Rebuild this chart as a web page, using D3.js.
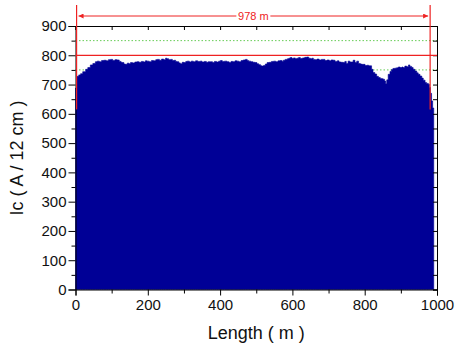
<!DOCTYPE html>
<html>
<head>
<meta charset="utf-8">
<script src="https://cdn.jsdelivr.net/npm/d3@7"></script>
<style>
  body { margin: 0; background: #fff; }
  svg { display: block; font-family: Arial, "Liberation Sans", sans-serif; }
</style>
</head>
<body>
<div id="chart"></div>
<script>
// length along the tape (m) and critical current (A / 12 cm)
const lengths = [0, 3, 4, 9, 14, 20, 28, 34, 41, 48, 55, 60, 66, 72, 78, 85, 91, 97, 103, 109,
  115, 121, 126, 129, 134, 138, 143, 148, 152, 158, 164, 170, 176, 182, 188, 193, 198, 204, 210, 216,
  222, 226, 232, 238, 244, 249, 253, 258, 263, 268, 273, 277, 281, 286, 290, 295, 300, 305, 309, 315,
  320, 326, 332, 338, 345, 350, 356, 362, 367, 373, 379, 384, 390, 396, 401, 406, 412, 419, 425, 430,
  436, 441, 447, 452, 458, 464, 470, 475, 479, 485, 491, 497, 502, 507, 512, 516, 520, 525, 530, 536,
  542, 548, 554, 560, 566, 571, 575, 580, 586, 590, 594, 599, 603, 608, 612, 617, 622, 628, 634, 640,
  645, 650, 654, 658, 663, 668, 674, 680, 685, 690, 696, 702, 707, 713, 718, 724, 729, 735, 741, 745,
  749, 754, 759, 764, 768, 773, 778, 783, 788, 792, 796, 801, 806, 811, 815, 819, 823, 828, 833, 838,
  843, 847, 851, 855, 858, 861, 865, 870, 874, 878, 883, 888, 893, 898, 903, 906, 911, 916, 921, 925,
  930, 934, 939, 944, 948, 953, 958, 962, 967, 971, 976, 979, 982, 985, 988, 991];
const icValues = [688, 690, 728, 733, 737, 744, 752, 758, 767, 772, 778, 780, 778, 782, 783, 781, 785, 786, 782, 785,
  784, 779, 776, 775, 770, 769, 773, 771, 775, 774, 777, 778, 776, 779, 777, 781, 780, 778, 782, 781,
  785, 786, 783, 787, 785, 790, 788, 785, 786, 782, 783, 779, 778, 774, 771, 776, 775, 779, 780, 777,
  780, 778, 781, 779, 780, 777, 779, 776, 778, 778, 775, 779, 777, 780, 782, 779, 780, 778, 775, 779,
  778, 781, 780, 778, 782, 784, 786, 782, 780, 778, 776, 775, 771, 768, 764, 763, 765, 770, 775, 776,
  779, 780, 778, 781, 782, 780, 783, 786, 788, 790, 792, 789, 791, 788, 790, 792, 789, 791, 793, 794,
  790, 788, 790, 786, 785, 787, 784, 786, 786, 782, 784, 781, 784, 783, 779, 781, 777, 776, 775, 779,
  772, 780, 777, 777, 783, 775, 780, 772, 770, 769, 769, 765, 766, 764, 764, 752, 741, 736, 728, 724,
  721, 720, 718, 712, 703, 716, 735, 745, 751, 755, 756, 757, 760, 758, 760, 758, 763, 761, 767, 762,
  758, 752, 746, 740, 735, 729, 722, 715, 707, 704, 701, 690, 670, 644, 620, 600];

const xTicks = [0, 200, 400, 600, 800, 1000];
const yTicks = [0, 100, 200, 300, 400, 500, 600, 700, 800, 900];
const refLines = [850, 750];     // green dotted
const specLine = 800;            // red horizontal
const markStart = 3, markEnd = 981, markLabel = '978 m';

const W = 456, H = 346;
const svg = d3.select('#chart').append('svg').attr('width', W).attr('height', H);

const x = d3.scaleLinear().domain([0, 1000]).range([75.5, 437]);
const y = d3.scaleLinear().domain([0, 900]).range([289.5, 26]);

const data = lengths.map((m, i) => ({ m, v: icValues[i] }));

// reference lines behind the data
refLines.forEach(v => {
  svg.append('line')
    .attr('x1', x(0)).attr('x2', x(1000))
    .attr('y1', y(v)).attr('y2', y(v))
    .attr('stroke', '#66cc55').attr('stroke-width', 1)
    .attr('stroke-dasharray', '1.5,2');
});

const area = d3.area()
  .x(d => x(d.m))
  .y0(y(0))
  .y1(d => y(d.v))
  .curve(d3.curveStepAfter);

svg.append('path')
  .datum(data)
  .attr('fill', '#000096')
  .attr('stroke', '#000096')
  .attr('stroke-width', 0.6)
  .attr('d', area);

// axes
const minorY = d3.range(50, 900, 100);
const minorX = d3.range(100, 1000, 200);

svg.append('g')
  .attr('transform', `translate(${x(0)},0)`)
  .call(d3.axisLeft(y).tickValues(minorY).tickSize(4).tickFormat(''))
  .call(g => g.select('.domain').remove());
svg.append('g')
  .attr('transform', `translate(${x(0)},0)`)
  .call(d3.axisLeft(y).tickValues(yTicks).tickSize(7).tickPadding(2).tickFormat(d3.format('d')))
  .call(g => g.selectAll('text').attr('font-size', 15).attr('fill', '#111'));

svg.append('g')
  .attr('transform', `translate(0,${y(0)})`)
  .call(d3.axisBottom(x).tickValues(minorX).tickSize(4).tickFormat(''))
  .call(g => g.select('.domain').remove());
svg.append('g')
  .attr('transform', `translate(0,${y(0)})`)
  .call(d3.axisBottom(x).tickValues(xTicks).tickSize(6).tickPadding(4).tickFormat(d3.format('d')))
  .call(g => g.selectAll('text').attr('font-size', 15).attr('fill', '#111'));

svg.append('g')
  .attr('transform', `translate(0,${y(900)})`)
  .call(d3.axisTop(x).tickValues(d3.range(0, 1001, 100)).tickSize(-4).tickFormat(''));
svg.append('g')
  .attr('transform', `translate(${x(1000)},0)`)
  .call(d3.axisRight(y).tickValues(d3.range(0, 901, 50)).tickSize(-4).tickFormat(''));

svg.selectAll('.domain').attr('stroke', '#000');
svg.selectAll('.tick line').attr('stroke', '#000');

// red markings
const red = '#ee2222';
svg.append('line')
  .attr('x1', x(0)).attr('x2', x(1000))
  .attr('y1', y(specLine)).attr('y2', y(specLine))
  .attr('stroke', red).attr('stroke-width', 1.2);

[markStart, markEnd].forEach(m => {
  svg.append('line')
    .attr('x1', x(m)).attr('x2', x(m))
    .attr('y1', 5).attr('y2', y(615))
    .attr('stroke', red).attr('stroke-width', 1.2);
});

const defs = svg.append('defs');
defs.append('marker')
  .attr('id', 'arr').attr('viewBox', '0 0 10 10')
  .attr('refX', 10).attr('refY', 5)
  .attr('markerWidth', 6).attr('markerHeight', 5)
  .attr('orient', 'auto-start-reverse')
  .append('path').attr('d', 'M0,0L10,5L0,10Z').attr('fill', red);

const arrowY = 16;
svg.append('line')
  .attr('x1', x(markStart) + 2).attr('x2', x(markEnd) - 2)
  .attr('y1', arrowY).attr('y2', arrowY)
  .attr('stroke', red).attr('stroke-width', 1)
  .attr('marker-start', 'url(#arr)').attr('marker-end', 'url(#arr)');

const midX = (x(markStart) + x(markEnd)) / 2;
svg.append('rect')
  .attr('x', midX - 17).attr('y', arrowY - 6)
  .attr('width', 34).attr('height', 12)
  .attr('fill', '#fff');
svg.append('text')
  .attr('x', midX).attr('y', arrowY + 4)
  .attr('text-anchor', 'middle')
  .attr('font-size', 11)
  .attr('fill', red)
  .text(markLabel);

// axis titles
svg.append('text')
  .attr('x', (x(0) + x(1000)) / 2).attr('y', 339)
  .attr('text-anchor', 'middle')
  .attr('font-size', 18)
  .attr('fill', '#111')
  .text('Length ( m )');

svg.append('text')
  .attr('transform', `translate(23,${158}) rotate(-90)`)
  .attr('text-anchor', 'middle')
  .attr('font-size', 18)
  .attr('fill', '#111')
  .text('Ic ( A / 12 cm )');
</script>
</body>
</html>
